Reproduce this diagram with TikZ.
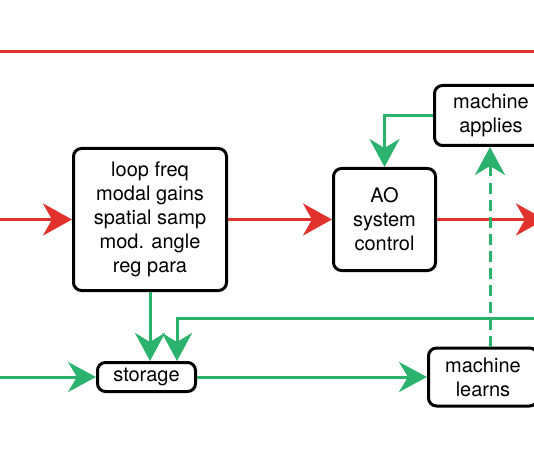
\documentclass[tikz,border=0pt]{standalone}
\usepackage{fontspec}
\setmainfont{TeX Gyre Heros}
\usetikzlibrary{arrows.meta}
\definecolor{cred}{HTML}{E2322E}
\definecolor{cgreen}{HTML}{2BB36E}
\begin{document}
\begin{tikzpicture}[x=1pt,y=-1pt,
  box/.style={draw=black, line width=3pt, rounded corners=8pt, fill=white,
    align=center, inner sep=0pt, font=\fontsize{20}{24}\selectfont},
  redline/.style={draw=cred, line width=3pt},
  greenline/.style={draw=cgreen, line width=3pt},
  tipr/.style={-{Stealth[length=29pt, width=32pt, inset=9pt, fill=cred]}},
  tipg/.style={-{Stealth[length=28pt, width=30pt, inset=9pt, fill=cgreen]}},
]
\useasboundingbox (0,0) rectangle (534,462);
\fill[white] (0,0) rectangle (534,462);
\clip (0,0) rectangle (534,462);

% nodes
\node[box, minimum width=153pt, minimum height=142pt] (loop) at (150,219.5)
  {loop freq\\modal gains\\spatial samp\\mod. angle\\reg para};
\node[box, minimum width=102pt, minimum height=102pt] (ao) at (384.5,219.5)
  {AO\\system\\control};
\node[box, minimum width=113pt, minimum height=60pt] (apply) at (491,115.5)
  {machine\\applies};
\node[box, minimum width=98pt, minimum height=29pt] (store) at (146.5,377)
  {storage};
\node[box, minimum width=109pt, minimum height=58pt] (learn) at (483,377)
  {machine\\learns};

% free ends
\coordinate (tl) at (0,52);
\coordinate (tr) at (534,52);
\coordinate (rin) at (0,219.5);
\coordinate (rout) at (545,219.5);
\coordinate (gin) at (0,377);
\coordinate (gr) at (534,318);
\coordinate (gx) at (177,0);
\coordinate (dx) at (490,0);

% red connectors
\draw[redline] (tl) -- (tr);
\draw[redline, tipr] (rin) -- (loop.west);
\draw[redline, tipr] (loop.east) -- (ao.west);
\draw[redline, tipr] (ao.east) -- (rout);

% green connectors
\draw[greenline, tipg] (apply.west) -| (ao.north);
\draw[greenline, tipg, dash pattern=on 11pt off 6pt] (learn.north -| dx) -- (apply.south -| dx);
\draw[greenline, tipg] (gin) -- (store.west);
\draw[greenline, tipg] (store.east) -- (learn.west);
\draw[greenline, tipg] (loop.south) -- (loop.south |- store.north);
\draw[greenline, tipg] (gr) -| (gx |- store.north);
\end{tikzpicture}
\end{document}
